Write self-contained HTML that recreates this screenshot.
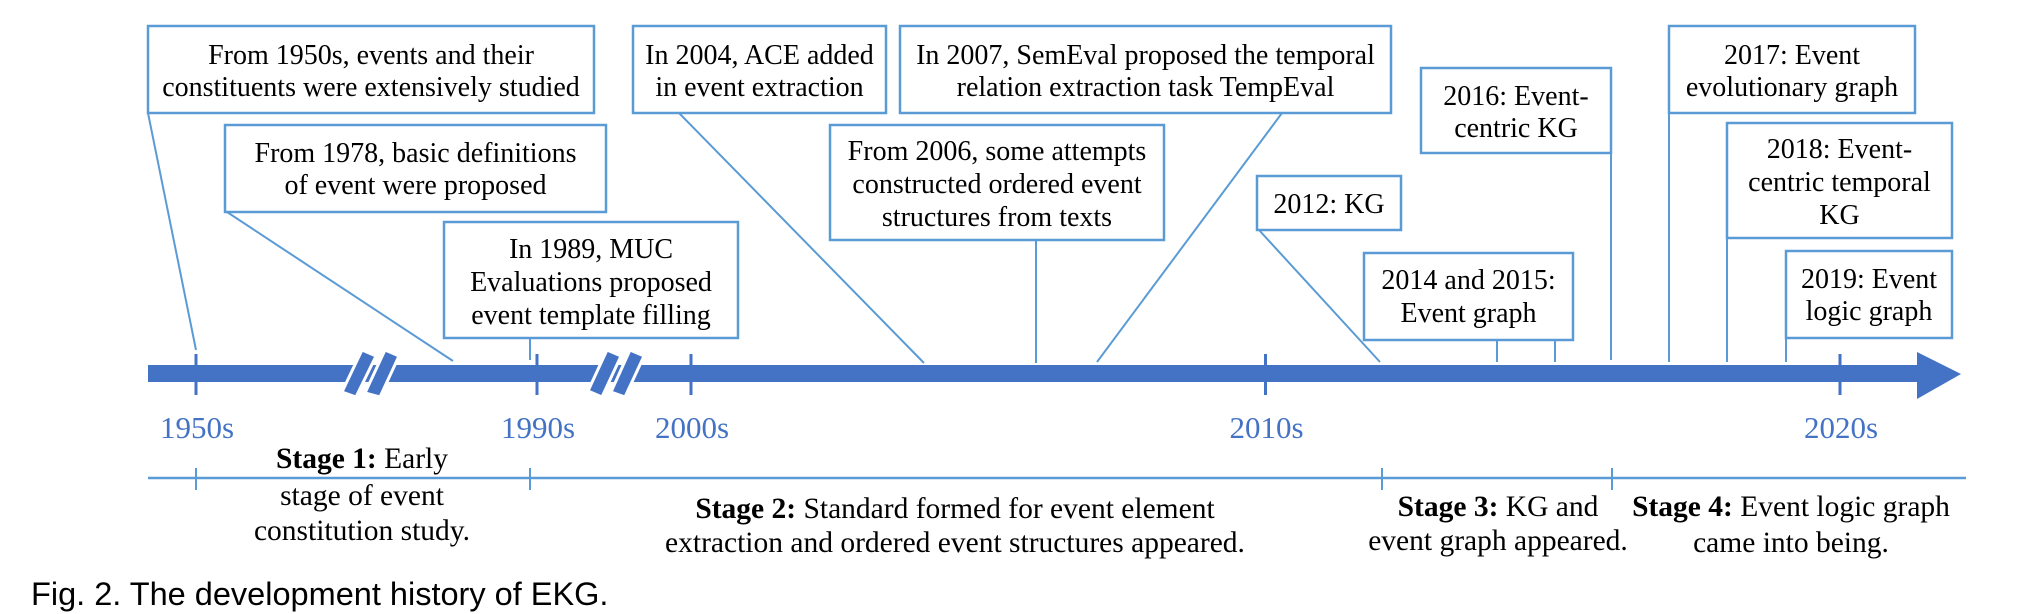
<!DOCTYPE html>
<html><head><meta charset="utf-8"><style>
html,body{margin:0;padding:0;background:#fff;}
svg{display:block;}
.bt{font-family:"Liberation Serif",serif;font-size:28px;fill:#000;}
.lab{font-family:"Liberation Serif",serif;font-size:31px;fill:#4472C4;}
.st{font-family:"Liberation Serif",serif;font-size:29.5px;fill:#000;}
</style></head><body>
<svg id="chart" width="2041" height="614" viewBox="0 0 2041 614" xmlns="http://www.w3.org/2000/svg">
<g id="connectors" stroke="#5B9BD5" stroke-width="2" fill="none">
<line x1="148" y1="113" x2="196" y2="350"/>
<line x1="227" y1="212" x2="453" y2="361"/>
<line x1="530" y1="338" x2="530" y2="360"/>
<line x1="679" y1="113" x2="924" y2="363"/>
<line x1="1036" y1="240" x2="1036" y2="363"/>
<line x1="1282" y1="113" x2="1097" y2="362"/>
<line x1="1259" y1="230" x2="1380" y2="362"/>
<line x1="1497" y1="340" x2="1497" y2="362"/>
<line x1="1555" y1="340" x2="1555" y2="362"/>
<line x1="1611" y1="153" x2="1611" y2="360"/>
<line x1="1669" y1="113" x2="1669" y2="362"/>
<line x1="1727" y1="238" x2="1727" y2="362"/>
<line x1="1786" y1="338" x2="1786" y2="362"/>
</g>
<g id="boxes"></g>
<g id="axis">
<rect x="148" y="365" width="1772" height="17" fill="#4472C4"/>
<polygon points="1917,352 1961,374 1917,399" fill="#4472C4"/>
<g stroke="#fff" stroke-width="3" fill="#4472C4">
<polygon points="362,350 376,356 356,397 342,392"/>
<polygon points="385,350 399,356 380,397 365,393"/>
</g>
<g stroke="#fff" stroke-width="3" fill="#4472C4">
<polygon points="607,350 621,356 602,397 588,391"/>
<polygon points="630,350 644,356 625,397 611,392"/>
</g>
</g>
<g id="ticks"></g>
<g id="stages">
<line x1="148" y1="478" x2="1966" y2="478" stroke="#5B9BD5" stroke-width="2.5"/>
<line x1="196" y1="468" x2="196" y2="490" stroke="#5B9BD5" stroke-width="2"/>
<line x1="530" y1="468" x2="530" y2="490" stroke="#5B9BD5" stroke-width="2"/>
<line x1="1382" y1="468" x2="1382" y2="490" stroke="#5B9BD5" stroke-width="2"/>
<line x1="1612" y1="468" x2="1612" y2="490" stroke="#5B9BD5" stroke-width="2"/>
<text class="st" x="362" y="468" text-anchor="middle"><tspan font-weight="bold">Stage 1:</tspan> Early</text>
<text class="st" x="362" y="505" text-anchor="middle">stage of event</text>
<text class="st" x="362" y="540" text-anchor="middle">constitution study.</text>
<text class="st" x="955" y="518" text-anchor="middle"><tspan font-weight="bold">Stage 2:</tspan> Standard formed for event element</text>
<text class="st" x="955" y="552" text-anchor="middle">extraction and ordered event structures appeared.</text>
<text class="st" x="1498" y="516" text-anchor="middle"><tspan font-weight="bold">Stage 3:</tspan> KG and</text>
<text class="st" x="1498" y="550" text-anchor="middle">event graph appeared.</text>
<text class="st" x="1791" y="516" text-anchor="middle"><tspan font-weight="bold">Stage 4:</tspan> Event logic graph</text>
<text class="st" x="1791" y="552" text-anchor="middle">came into being.</text>
</g>
<text x="31" y="605" font-family="Liberation Sans, sans-serif" font-size="32.5" fill="#000">Fig. 2. The development history of EKG.</text>
</svg>
<script>
const tickLabels = ["1950s","1990s","2000s","2010s","2020s"];
const tickYears = [1950,1990,2000,2010,2020];
const eventTexts = [
 ["From 1950s, events and their","constituents were extensively studied"],
 ["From 1978, basic definitions","of event were proposed"],
 ["In 1989, MUC","Evaluations proposed","event template filling"],
 ["In 2004, ACE added","in event extraction"],
 ["In 2007, SemEval proposed the temporal","relation extraction task TempEval"],
 ["From 2006, some attempts","constructed ordered event","structures from texts"],
 ["2012: KG"],
 ["2016: Event-","centric KG"],
 ["2014 and 2015:","Event graph"],
 ["2017: Event","evolutionary graph"],
 ["2018: Event-","centric temporal","KG"],
 ["2019: Event","logic graph"]
];
// piecewise axis (broken scale)
function xScale(y){
  if (y<=1950) return 196;
  if (y<=1990) return 537;
  return 691 + (y-2000)*57.45;
}
const NS="http://www.w3.org/2000/svg";
const tg=document.getElementById('ticks');
tickYears.forEach((yr,i)=>{
  const x=xScale(yr);
  const l=document.createElementNS(NS,'line');
  
  
  l.setAttribute('x1',x);l.setAttribute('x2',x);l.setAttribute('y1',354);l.setAttribute('y2',395);
  l.setAttribute('stroke','#4472C4');l.setAttribute('stroke-width',3);
  tg.appendChild(l);
  const t=document.createElementNS(NS,'text');
  
  
  t.setAttribute('class','lab');t.setAttribute('x',x+1);t.setAttribute('y',438);t.setAttribute('text-anchor','middle');
  t.textContent=tickLabels[i];
  tg.appendChild(t);
});
const layout=[
 [148,26,594,113,55,32],[225,125,606,212,153,32],[444,222,738,338,249,33],
 [633,26,886,113,55,32],[900,26,1391,113,55,32],[830,125,1164,240,151,33],
 [1257,176,1401,230,204,32],[1421,68,1611,153,96,32],[1364,253,1573,340,280,33],
 [1669,26,1915,113,55,32],[1727,123,1952,238,149,33],[1786,251,1952,338,279,32]
];
const bg=document.getElementById('boxes');
eventTexts.forEach((lines,i)=>{
  const [x0,y0,x1,y1,c,s]=layout[i];
  const g=document.createElementNS(NS,'g');
  
  
  const r=document.createElementNS(NS,'rect');
  r.setAttribute('x',x0);r.setAttribute('y',y0);r.setAttribute('width',x1-x0);r.setAttribute('height',y1-y0);
  r.setAttribute('fill','#fff');r.setAttribute('stroke','#5B9BD5');r.setAttribute('stroke-width',2.5);
  g.appendChild(r);
  lines.forEach((ln,j)=>{
    const t=document.createElementNS(NS,'text');
    t.setAttribute('class','bt');t.setAttribute('x',(x0+x1)/2);t.setAttribute('y',c+j*s+9);
    t.setAttribute('text-anchor','middle');t.textContent=ln;
    g.appendChild(t);
  });
  bg.appendChild(g);
});
</script>
</body></html>
